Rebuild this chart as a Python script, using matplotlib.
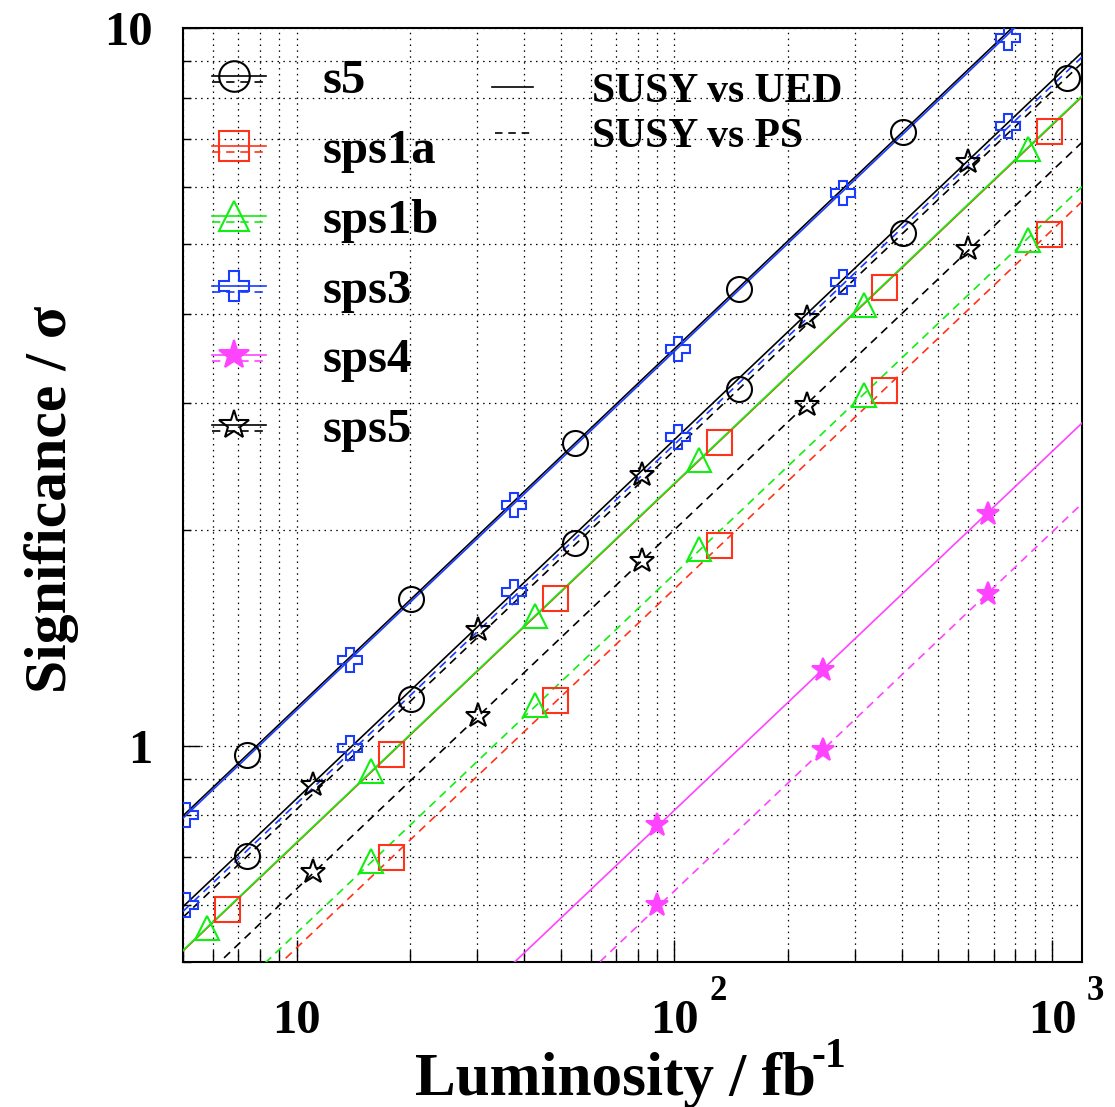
import matplotlib
matplotlib.use("Agg")
import matplotlib.pyplot as plt
from matplotlib.lines import Line2D
from matplotlib.ticker import FixedLocator, FixedFormatter, NullFormatter, LogLocator

plt.rcParams["font.family"] = ["Liberation Serif", "DejaVu Serif"]
plt.rcParams["font.weight"] = "bold"

# models and styles
models = ["s5", "sps1a", "sps1b", "sps3", "sps4", "sps5"]
colors = ["black", "#ff3319", "#11ee11", "#1a3cff", "#ff44ff", "black"]
markers = ["o", "s", "^", "P", "*", "*"]
msizes = [18, 18, 17, 17.5, 17, 18.5]
filled = [False, False, False, False, True, False]

# luminosity range covered by the curves (fb^-1)
lum_ends = [5, 1200]
# significance of each curve at the two ends
ued_lo = [0.799, 0.518, 0.519, 0.793, 0.182, 0.597]
ued_hi = [12.38, 8.02, 8.04, 12.28, 2.816, 9.25]
ps_lo = [0.577, 0.370, 0.388, 0.588, 0.1404, 0.447]
ps_hi = [8.94, 5.73, 6.01, 9.11, 2.175, 6.93]

# marker points
ued_mx = [
    [7.39, 20.1, 54.6, 148.4, 403.4],
    [6.54, 17.78, 48.4, 131.6, 358, 979],
    [5.78, 15.74, 42.8, 116.5, 317, 862],
    [5.09, 13.84, 37.6, 102.5, 280, 764],
    [90.2, 246.8, 676],
    [11.05, 30.2, 82.3, 224, 598],
]
ued_my = [
    [0.972, 1.60, 2.64, 4.33, 7.17],
    [0.593, 0.975, 1.607, 2.651, 4.358, 7.19],
    [0.558, 0.923, 1.517, 2.502, 4.114, 6.785],
    [0.80, 1.318, 2.166, 3.57, 5.89, 9.68],
    [0.776, 1.276, 2.104],
    [0.8825, 1.45, 2.385, 3.946, 6.51],
]
ps_mx = [
    [7.39, 20.1, 54.6, 148.4, 403.4, 1097],
    [17.78, 48.4, 131.6, 358, 979],
    [15.74, 42.8, 116.5, 317, 862],
    [5.09, 13.84, 37.6, 102.5, 280, 764],
    [90.2, 246.8, 676],
    [11.05, 30.2, 82.3, 224, 598],
]
ps_my = [
    [0.703, 1.163, 1.918, 3.14, 5.18, 8.52],
    [0.700, 1.159, 1.905, 3.132, 5.166],
    [0.692, 1.141, 1.881, 3.083, 5.067],
    [0.601, 0.994, 1.638, 2.694, 4.43, 7.30],
    [0.601, 0.987, 1.628],
    [0.668, 1.101, 1.81, 2.985, 4.92],
]

x_ticks = [10, 100, 1000]
x_tick_exp = ["", "2", "3"]
y_ticks = [1, 10]

dash = (0, (5, 3.5))

fig = plt.figure(figsize=(11.15, 11.07), dpi=100)
ax = fig.add_axes([0.1641, 0.131, 0.8063, 0.8437])
ax.set_xscale("log")
ax.set_yscale("log")
ax.set_xlim(5, 1200)
ax.set_ylim(0.5, 10)

for i, m in enumerate(models):
    c = colors[i]
    fc = c if filled[i] else "none"
    ax.plot(lum_ends, [ued_lo[i], ued_hi[i]], color=c, lw=1.2, zorder=3)
    ax.plot(lum_ends, [ps_lo[i], ps_hi[i]], color=c, lw=1.2, ls=dash, zorder=3)
    ax.plot(ued_mx[i], ued_my[i], ls="none", marker=markers[i], ms=msizes[i],
            mfc=fc, mec=c, mew=1.5, zorder=4)
    ax.plot(ps_mx[i], ps_my[i], ls="none", marker=markers[i], ms=msizes[i],
            mfc=fc, mec=c, mew=1.5, zorder=4)

# grid and ticks
ax.grid(which="both", color="black", lw=0.9, ls=(0, (1.2, 3.5)))
ax.xaxis.set_major_locator(FixedLocator(x_ticks))
ax.xaxis.set_major_formatter(FixedFormatter(["10"] * len(x_ticks)))
ax.xaxis.set_minor_locator(LogLocator(base=10, subs=range(2, 10)))
ax.xaxis.set_minor_formatter(NullFormatter())
ax.yaxis.set_major_locator(FixedLocator(y_ticks))
ax.yaxis.set_major_formatter(FixedFormatter([str(v) for v in y_ticks]))
ax.yaxis.set_minor_locator(LogLocator(base=10, subs=range(2, 10)))
ax.yaxis.set_minor_formatter(NullFormatter())
ax.tick_params(axis="x", which="major", direction="in", length=16, width=1,
               labelsize=35, pad=27, top=False)
ax.tick_params(axis="x", which="minor", direction="in", length=9, width=1, top=False)
ax.tick_params(axis="y", which="major", direction="in", length=12, width=1,
               labelsize=35, pad=22, right=False)
ax.tick_params(axis="y", which="minor", direction="in", length=6, width=1, right=False)
for s in ax.spines.values():
    s.set_linewidth(1.5)


def px(x):
    return (x - 183) / 899


def py(y):
    return (962 - y) / 934


# exponents of the x tick labels
for v, e in zip(x_ticks, x_tick_exp):
    if e:
        ax.annotate(e, xy=(v, 0), xycoords=("data", "axes fraction"),
                    xytext=(25, -38 / 1.389 * 1.0), textcoords="offset points",
                    fontsize=25, fontweight="bold", ha="left", va="baseline",
                    annotation_clip=False)

ax.set_xlabel("Luminosity / fb", fontsize=44, fontweight="bold")
ax.xaxis.set_label_coords(px(615.5), py(1095))
ax.xaxis.label.set_va("baseline")
ax.text(px(812), py(1067), "-1", transform=ax.transAxes, fontsize=30,
        fontweight="bold", ha="left", va="baseline", clip_on=False)
ax.set_ylabel("Significance / σ", fontsize=43, fontweight="bold")
ax.yaxis.set_label_coords(-0.1457, 0.495)
ax.yaxis.label.set_va("center")

# model legend
row_y = [76, 146, 216, 286, 355, 425]
for i, m in enumerate(models):
    c = colors[i]
    fc = c if filled[i] else "none"
    y = row_y[i]
    ax.add_line(Line2D([px(212), px(266)], [py(y), py(y)], color=c, lw=1.2,
                       transform=ax.transAxes, clip_on=False))
    ax.add_line(Line2D([px(212), px(266)], [py(y + 6), py(y + 6)], color=c, lw=1.2,
                       ls=dash, transform=ax.transAxes, clip_on=False))
    ax.add_line(Line2D([px(234)], [py(y)], ls="none", marker=markers[i], ms=22,
                       mfc=fc, mec=c, mew=1.5, transform=ax.transAxes, clip_on=False))
    ax.text(px(323), py(y + 17), m, transform=ax.transAxes, fontsize=35,
            fontweight="bold", va="baseline", ha="left")

# line style legend
ax.add_line(Line2D([px(492), px(533)], [py(87), py(87)], color="black", lw=1.2,
                   transform=ax.transAxes))
ax.add_line(Line2D([px(495), px(533)], [py(133), py(133)], color="black", lw=1.2,
                   ls=(0, (4.5, 3.5)), transform=ax.transAxes))
ax.text(px(592), py(102), "SUSY vs UED", transform=ax.transAxes, fontsize=30,
        fontweight="bold", va="baseline", ha="left")
ax.text(px(592), py(147), "SUSY vs PS", transform=ax.transAxes, fontsize=30,
        fontweight="bold", va="baseline", ha="left")

fig.savefig("out.png", dpi=100)
